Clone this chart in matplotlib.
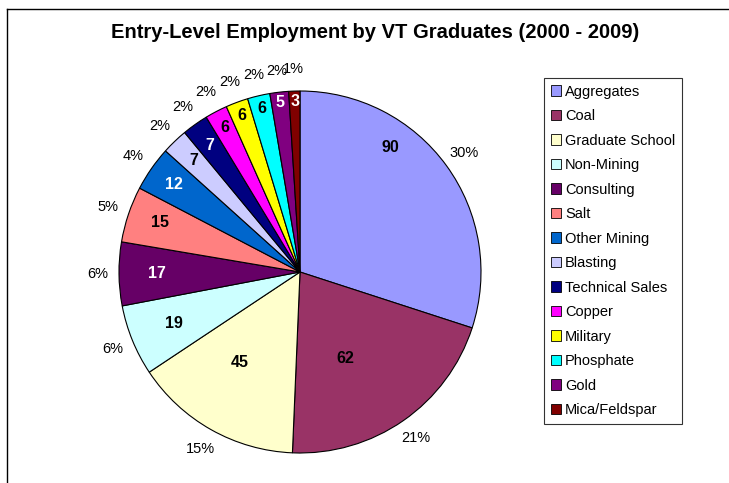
import numpy as np
import matplotlib
matplotlib.use("Agg")
import matplotlib.pyplot as plt
from matplotlib.patches import Rectangle
from matplotlib.lines import Line2D

plt.rcParams["font.family"] = ["Liberation Sans", "DejaVu Sans"]

TITLE = "Entry-Level Employment by VT Graduates (2000 - 2009)"

categories = [
    "Aggregates", "Coal", "Graduate School", "Non-Mining", "Consulting",
    "Salt", "Other Mining", "Blasting", "Technical Sales", "Copper",
    "Military", "Phosphate", "Gold", "Mica/Feldspar",
]
graduates = [90, 62, 45, 19, 17, 15, 12, 7, 7, 6, 6, 6, 5, 3]

colors = [
    "#9999FF", "#993366", "#FFFFCC", "#CCFFFF", "#660066",
    "#FF8080", "#0066CC", "#CCCCFF", "#000080", "#FF00FF",
    "#FFFF00", "#00FFFF", "#800080", "#800000",
]
# label colour per slice (Excel picks white on the dark ones)
value_colors = [
    "black", "black", "black", "black", "white",
    "black", "white", "black", "white", "black",
    "black", "black", "white", "white",
]
# where Excel parked the value labels: radial fraction and angle nudge (deg)
value_r = [0.85, 0.54, 0.60, 0.75, 0.79, 0.82, 0.85, 0.85, 0.86, 0.90, 0.92, 0.93, 0.94, 0.94]
value_nudge = [-18, 7, 4, 0, 0, 1, 0, 0, 0, 0, 0, 0, 0, 0]

W, H = 729, 483
CX, CY, R = 300, 272, 181   # pie centre / radius in pixels
HALF = 1.2

fig = plt.figure(figsize=(W / 100, H / 100), dpi=100)
fig.patch.set_facecolor("white")

# chart border (only left and top edges are inside the crop)
fig.add_artist(Line2D([7 / W, 7 / W], [0, 1 - 9 / H], color="black", lw=1.0))
fig.add_artist(Line2D([7 / W, 1], [1 - 9 / H, 1 - 9 / H], color="black", lw=1.0))

span = HALF * R
ax = fig.add_axes([(CX - span) / W, (H - CY - span) / H, 2 * span / W, 2 * span / H])
wedges, _ = ax.pie(
    graduates,
    colors=colors,
    startangle=90,
    counterclock=False,
    radius=1.0,
    wedgeprops=dict(edgecolor="black", linewidth=0.8),
)
ax.set_xlim(-HALF, HALF)
ax.set_ylim(-HALF, HALF)
ax.set_axis_off()

total = sum(graduates)
for i, w in enumerate(wedges):
    mid = np.deg2rad((w.theta1 + w.theta2) / 2 - value_nudge[i])
    ax.text(value_r[i] * np.cos(mid), value_r[i] * np.sin(mid), str(graduates[i]),
            ha="center", va="center", fontsize=11.5, fontweight="bold",
            color=value_colors[i])
    mid = np.deg2rad((w.theta1 + w.theta2) / 2)
    pct = f"{100 * graduates[i] / total:.0f}%"
    ax.text(1.12 * np.cos(mid), 1.12 * np.sin(mid), pct,
            ha="center", va="center", fontsize=10.5, clip_on=False)

fig.text(375 / W, 1 - 32 / H, TITLE, ha="center", va="center",
         fontsize=14.5, fontweight="bold")

handles = [Rectangle((0, 0), 1, 1, facecolor=c, edgecolor="black", linewidth=0.6)
           for c in colors]
leg = fig.legend(
    handles, categories,
    loc="upper left",
    bbox_to_anchor=(544 / W, 1 - 78 / H),
    fontsize=10.5,
    frameon=True,
    fancybox=False,
    shadow=False,
    borderpad=0.45,
    labelspacing=0.72,
    handlelength=0.7,
    handleheight=0.7,
    handletextpad=0.3,
    borderaxespad=0,
)
leg.get_frame().set_edgecolor("black")
leg.get_frame().set_linewidth(0.8)

fig.savefig("out.png", dpi=100, facecolor="white")
